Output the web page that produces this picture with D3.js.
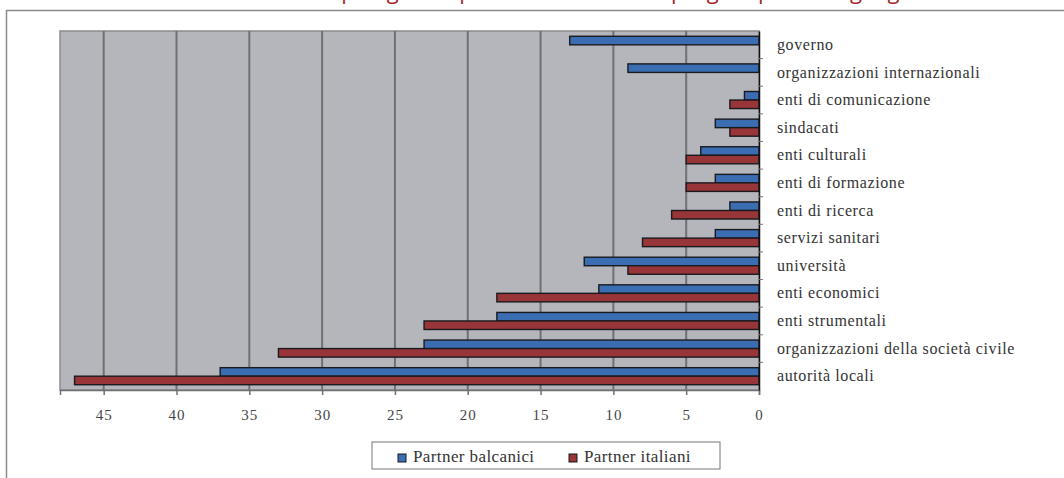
<!DOCTYPE html>
<html>
<head>
<meta charset="utf-8">
<script src="https://cdn.jsdelivr.net/npm/d3@7"></script>
<style>
  html, body { margin: 0; padding: 0; background: #fff; }
  svg { display: block; }
</style>
</head>
<body>
<svg id="chart" width="1064" height="478"></svg>
<script>
// Categories, top to bottom
const categories = [
  "governo",
  "organizzazioni internazionali",
  "enti di comunicazione",
  "sindacati",
  "enti culturali",
  "enti di formazione",
  "enti di ricerca",
  "servizi sanitari",
  "università",
  "enti economici",
  "enti strumentali",
  "organizzazioni della società civile",
  "autorità locali"
];
const seriesNames = ["Partner balcanici", "Partner italiani"];
const balcanici = [13, 9, 1, 3, 4, 3, 2, 3, 12, 11, 18, 23, 37];
const italiani  = [0, 0, 2, 2, 5, 5, 6, 8, 9, 18, 23, 33, 47];
const tickValues = [45, 40, 35, 30, 25, 20, 15, 10, 5, 0];
const title = "Tipologia dei partner coinvolti nei progetti per area geografica";

const colors = { "Partner balcanici": "#3b6db3", "Partner italiani": "#983539" };
const serif = "Liberation Serif, Times New Roman, serif";

const svg = d3.select("#chart");
const plot = { left: 60, right: 759, top: 31, bottom: 390 };

// page frame
svg.append("line").attr("x1", 6).attr("x2", 1064).attr("y1", 10.5).attr("y2", 10.5)
  .attr("stroke", "#8a8a8a").attr("stroke-width", 1.5);
svg.append("line").attr("x1", 6.5).attr("x2", 6.5).attr("y1", 10).attr("y2", 478)
  .attr("stroke", "#8a8a8a").attr("stroke-width", 1.5);

// title (runs above the top of the page)
svg.append("text").attr("x", 640).attr("y", -1.5).attr("text-anchor", "middle")
  .attr("font-family", "Open Sans").attr("font-size", 22).attr("fill", "#a3292c")
  .text(title);

const x = d3.scaleLinear().domain([0, 48]).range([plot.right, plot.left]);
const y = d3.scaleBand().domain(categories).range([plot.top, plot.bottom]).padding(0);
const ySub = d3.scaleBand().domain(seriesNames).range([0, y.bandwidth()])
  .paddingInner(0).paddingOuter(0.62);

// plot background
svg.append("rect").attr("x", plot.left).attr("y", plot.top)
  .attr("width", plot.right - plot.left).attr("height", plot.bottom - plot.top)
  .attr("fill", "#b4b6bb").attr("stroke", "#8c8c90").attr("stroke-width", 1.5);

// vertical gridlines
svg.append("g").selectAll("line").data(tickValues.filter(d => d > 0)).join("line")
  .attr("x1", d => x(d)).attr("x2", d => x(d))
  .attr("y1", plot.top).attr("y2", plot.bottom)
  .attr("stroke", "#6f7074").attr("stroke-width", 2);

// bars
const rows = categories.map((c, i) => ({ cat: c, values: [
  { s: seriesNames[0], v: balcanici[i] },
  { s: seriesNames[1], v: italiani[i] }
]}));

const groups = svg.append("g").selectAll("g").data(rows).join("g")
  .attr("transform", d => `translate(0,${y(d.cat)})`);
groups.selectAll("rect").data(d => d.values.filter(e => e.v > 0)).join("rect")
  .attr("x", d => x(d.v))
  .attr("y", d => ySub(d.s))
  .attr("width", d => x(0) - x(d.v))
  .attr("height", ySub.bandwidth())
  .attr("fill", d => colors[d.s])
  .attr("stroke", "#1a1a1e").attr("stroke-width", 1.4);

// bottom axis
const xAxis = d3.axisBottom(x).tickValues(tickValues).tickSize(5).tickPadding(14);
const gx = svg.append("g").attr("transform", `translate(0,${plot.bottom})`).call(xAxis);
gx.select(".domain").attr("stroke", "#6f6f6f").attr("stroke-width", 1.5);
gx.selectAll(".tick line").attr("stroke", "#6f6f6f").attr("stroke-width", 1.5);
gx.selectAll(".tick text").attr("font-family", serif).attr("font-size", 15)
  .attr("letter-spacing", 1).attr("fill", "#444");

// right category axis
const yAxis = d3.axisRight(y).tickSize(0).tickPadding(18);
const gy = svg.append("g").attr("transform", `translate(${plot.right},0)`).call(yAxis);
gy.select(".domain").attr("stroke", "#111").attr("stroke-width", 1.5);
gy.selectAll(".tick text").attr("font-family", serif).attr("font-size", 16)
  .attr("letter-spacing", 0.6).attr("fill", "#333").attr("text-anchor", "start");
// small marks between categories
svg.append("g").selectAll("line").data(categories.slice(1)).join("line")
  .attr("x1", plot.right).attr("x2", plot.right + 4)
  .attr("y1", d => y(d)).attr("y2", d => y(d))
  .attr("stroke", "#777").attr("stroke-width", 1);

// legend
const legend = svg.append("g");
legend.append("rect").attr("x", 372).attr("y", 442).attr("width", 348).attr("height", 27)
  .attr("fill", "#fff").attr("stroke", "#777").attr("stroke-width", 1);
const legendX = [398, 569];
seriesNames.forEach((s, i) => {
  legend.append("rect").attr("x", legendX[i]).attr("y", 454).attr("width", 8).attr("height", 8)
    .attr("fill", colors[s]).attr("stroke", "#1a1a1e").attr("stroke-width", 1);
  legend.append("text").attr("x", legendX[i] + 15).attr("y", 462)
    .attr("font-family", serif).attr("font-size", 17).attr("letter-spacing", 0.4)
    .attr("fill", "#333").text(s);
});
</script>
</body>
</html>
